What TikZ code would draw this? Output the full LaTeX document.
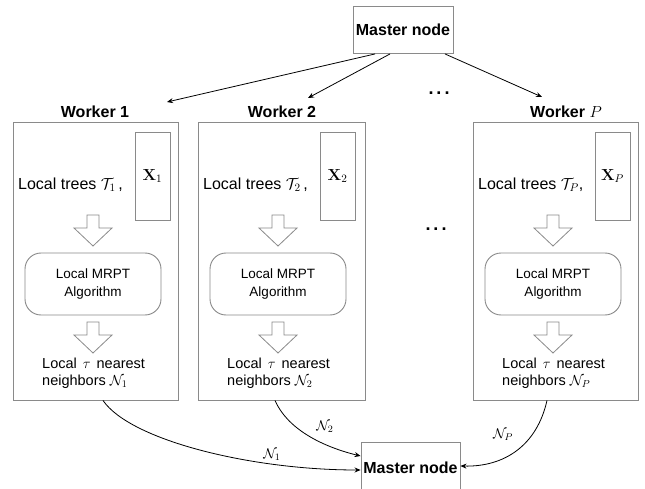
\RequirePackage{fix-cm}
\documentclass[tikz,border=0pt]{standalone}
\usepackage[no-math]{fontspec}
\setmainfont{Liberation Sans}
\usetikzlibrary{arrows.meta}
\definecolor{boxgray}{HTML}{8A8A8A}
\tikzset{
  master/.style={draw=boxgray, line width=0.9pt, minimum width=100pt, font=\fontsize{16}{19}\selectfont\bfseries, inner sep=0pt},
  wbox/.style={draw=boxgray, line width=0.9pt, minimum height=278pt, inner sep=0pt},
  wlabel/.style={font=\fontsize{16}{19}\selectfont\bfseries, inner sep=0pt},
  xbox/.style={draw=boxgray, line width=0.9pt, minimum width=35pt, minimum height=88pt, inner sep=0pt, font=\fontsize{16}{19}\selectfont},
  treetext/.style={anchor=west, inner sep=0pt, font=\fontsize{16}{19}\selectfont},
  algbox/.style={draw=boxgray, line width=0.9pt, rounded corners=16pt, minimum width=136pt, minimum height=62pt, align=center, inner sep=0pt, font=\fontsize{13.5}{18}\selectfont},
  nntext/.style={anchor=west, align=left, inner sep=0pt, font=\fontsize{14.5}{17}\selectfont},
  harrow/.style={draw=boxgray, line width=0.8pt, fill=white, line join=miter},
  conn/.style={line width=0.8pt, -{Stealth[length=6pt,width=5pt]}},
  elabel/.style={inner sep=0pt, font=\fontsize{14}{17}\selectfont},
  dots/.style={inner sep=0pt, font=\fontsize{18}{20}\selectfont\bfseries}
}
\newcommand\hollowdown[2]{%
  \draw[harrow] ({#1-6},#2) -- ({#1+6},#2) -- ({#1+6},{#2+13}) -- ({#1+19},{#2+13})
    -- (#1,{#2+31}) -- ({#1-19},{#2+13}) -- ({#1-6},{#2+13}) -- cycle;}
\newcommand\worker[5]{% #1 name, #2 left x, #3 width, #4 index math, #5 tree comma text
  \node[wbox, minimum width=#3pt] (#1) at ({#2+#3/2},261) {};
  \node[xbox] (#1x) at ({#2+139.5},176) {$\mathbf{X}_{#4}$};
  \node[treetext] (#1t) at ({#2+5},185) {Local trees #5};
  \hollowdown{#2+80}{215}
  \node[algbox] (#1a) at ({#2+80},284) {Local MRPT\\Algorithm};
  \hollowdown{#2+80}{322}
  \node[nntext] (#1n) at ({#2+29},373) {Local\hspace{6pt}$\tau$\hspace{6pt}nearest\\neighbors $\mathcal{N}_{#4}$};
}
\begin{document}
\begin{tikzpicture}[x=1pt,y=-1pt]
\useasboundingbox (0,0) rectangle (645,489);
\fill[white] (0,0) rectangle (645,489);

\node[master, minimum height=47pt] (m1) at (403,30) {Master node};
\node[master, minimum width=99pt, minimum height=52pt] (m2) at (410.5,468) {Master node};

\node[wlabel] (l1) at (95,112) {Worker 1};
\node[wlabel] (l2) at (282,112) {Worker 2};
\node[wlabel] (lP) at (566,112) {Worker $P$};

\worker{w1}{13}{165}{1}{$\mathcal{T}_1$\,,}
\worker{w2}{198}{167}{2}{$\mathcal{T}_2$\,,}
\worker{wP}{473}{165}{P}{$\mathcal{T}_P$,}

\node[dots] (d1) at (439,93) {.\hspace{3pt}.\hspace{3pt}.};
\node[dots] (d2) at (436,229) {.\hspace{3pt}.\hspace{3pt}.};

\coordinate (a1) at (167,102);
\coordinate (a2) at (308,98);
\coordinate (aP) at (542,97);
\draw[conn] ([xshift=-28pt]m1.south) -- (a1);
\draw[conn] ([xshift=-13pt]m1.south) -- (a2);
\draw[conn] ([xshift=42pt]m1.south) -- (aP);

\draw[conn] ([xshift=7.5pt]w1.south) .. controls (130,440) and (250,470) .. ([yshift=-2pt]m2.west);
\draw[conn] ([xshift=-6.5pt]w2.south) .. controls (287,428) and (320,446) .. ([yshift=12pt]m2.west);
\draw[conn] ([xshift=-8.5pt]wP.south) .. controls (537,445) and (505,467) .. ([yshift=2pt]m2.east);

\node[elabel] (n1) at (272,455) {$\mathcal{N}_1$};
\node[elabel] (n2) at (325,427) {$\mathcal{N}_2$};
\node[elabel] (nP) at (503,435) {$\mathcal{N}_P$};
\end{tikzpicture}
\end{document}
